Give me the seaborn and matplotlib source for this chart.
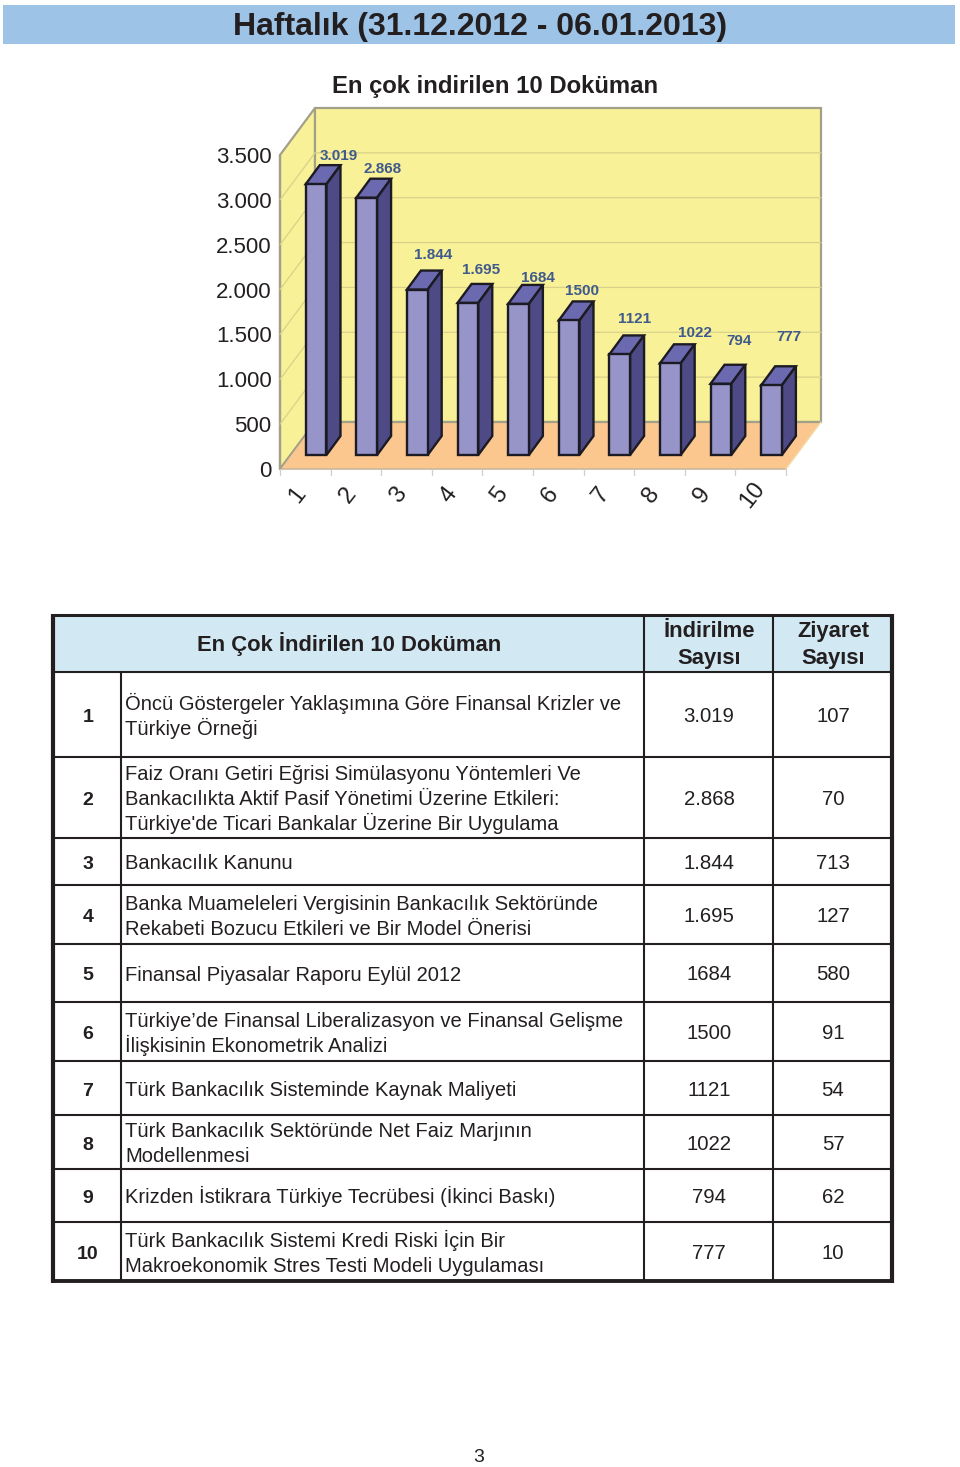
import matplotlib
matplotlib.use('Agg')
import matplotlib.pyplot as plt
from matplotlib.patches import Polygon, Rectangle
from matplotlib.transforms import Affine2D
import pandas as pd
import seaborn as sns

categories = ['1', '2', '3', '4', '5', '6', '7', '8', '9', '10']
downloads = [3019, 2868, 1844, 1695, 1684, 1500, 1121, 1022, 794, 777]
bar_labels = ['3.019', '2.868', '1.844', '1.695', '1684', '1500', '1121', '1022', '794', '777']
y_ticks = [0, 500, 1000, 1500, 2000, 2500, 3000, 3500]
y_tick_labels = ['0', '500', '1.000', '1.500', '2.000', '2.500', '3.000', '3.500']

docs = [
    "Öncü Göstergeler Yaklaşımına Göre Finansal Krizler ve\nTürkiye Örneği",
    "Faiz Oranı Getiri Eğrisi Simülasyonu Yöntemleri Ve\nBankacılıkta Aktif Pasif Yönetimi Üzerine Etkileri:\nTürkiye'de Ticari Bankalar Üzerine Bir Uygulama",
    "Bankacılık Kanunu",
    "Banka Muameleleri Vergisinin Bankacılık Sektöründe\nRekabeti Bozucu Etkileri ve Bir Model Önerisi",
    "Finansal Piyasalar Raporu Eylül 2012",
    "Türkiye’de Finansal Liberalizasyon ve Finansal Gelişme\nİlişkisinin Ekonometrik Analizi",
    "Türk Bankacılık Sisteminde Kaynak Maliyeti",
    "Türk Bankacılık Sektöründe Net Faiz Marjının\nModellenmesi",
    "Krizden İstikrara Türkiye Tecrübesi (İkinci Baskı)",
    "Türk Bankacılık Sistemi Kredi Riski İçin Bir\nMakroekonomik Stres Testi Modeli Uygulaması",
]
download_text = ['3.019', '2.868', '1.844', '1.695', '1684', '1500', '1121', '1022', '794', '777']
visits = ['107', '70', '713', '127', '580', '91', '54', '57', '62', '10']

# layout, in pixels of the 960x1467 page
W, H = 960, 1467
row_y = [615, 672, 757, 838, 885, 944, 1002, 1061, 1115, 1169, 1222, 1281]
col_x = [53, 121, 644, 773, 892]
X0, X1, Y0, Y1 = 280, 786, 469, 155   # front plane of the 3d box
BACK = (35, 47)
BAR = (10.8, 14)    # bars sit this far behind the front plane
DEPTH = (14, 19)
label_off = [(23, 28), (15.5, 29), (16, 34.6), (13.4, 33), (19, 26),
             (13.3, 29.5), (15, 35.5), (25, 30.3), (18.6, 42.8), (17, 48)]

sns.set_theme(style='white')
plt.rcParams['font.family'] = ['Liberation Sans', 'DejaVu Sans']
text_col = '#231f20'

fig = plt.figure(figsize=(W / 100, H / 100), dpi=100)
bg = fig.add_axes([0, 0, 1, 1])
bg.set_xlim(0, W)
bg.set_ylim(H, 0)
bg.axis('off')


def lines(x, mid, txt, step, off, **kw):
    # mpl changes line height with the glyphs (Ö, İ), so place each line itself
    parts = txt.split('\n')
    for k, part in enumerate(parts):
        bg.text(x, mid + (k - (len(parts) - 1) / 2) * step + off, part, va='baseline',
                color=text_col, **kw)


bg.add_patch(Rectangle((3, 5), 952, 39, fc='#9dc3e6', ec='none'))
bg.text(480, 35.5, 'Haftalık (31.12.2012 - 06.01.2013)', fontsize=23, weight='bold',
        ha='center', va='baseline', color=text_col)
bg.text(495, 87, 'En çok indirilen 10 Doküman', fontsize=17.2, weight='bold',
        ha='center', va='center', color=text_col)
bg.text(479, 1458, '3', fontsize=14, ha='center', va='center', color=text_col)

# walls and floor of the box
wall_col, floor_col, edge_col = '#f9f197', '#fcc78f', '#a3a08a'
bx, by = BACK
bg.add_patch(Polygon([(X0, Y0), (X0, Y1), (X0 + bx, Y1 - by), (X0 + bx, Y0 - by)],
                     fc=wall_col, ec=edge_col, lw=1.6))
bg.add_patch(Rectangle((X0 + bx, Y1 - by), X1 - X0, Y0 - Y1, fc=wall_col, ec=edge_col, lw=1.6))
bg.add_patch(Polygon([(X0, Y0), (X0 + bx, Y0 - by), (X1 + bx, Y0 - by), (X1, Y0)],
                     fc=floor_col, ec='none'))
bg.plot([X0 + bx, X1 + bx], [Y0 - by, Y0 - by], color=edge_col, lw=1.6)
bg.plot([X0, X1], [Y0, Y0], color='#c9b79c', lw=1.2)
bg.plot([X1, X1 + bx], [Y0, Y0 - by], color='#f3dca9', lw=1)
bg.plot([X0, X0 + bx], [Y0, Y0 - by], color=edge_col, lw=1.2)
bg.plot([X0, X0], [Y0, Y1], color=edge_col, lw=1.6)

# bars, on the value scale of the front plane
ax = fig.add_axes([X0 / W, 1 - Y0 / H, (X1 - X0) / W, (Y0 - Y1) / H])
df = pd.DataFrame({'doc': categories, 'downloads': downloads})
sns.barplot(data=df, x='doc', y='downloads', ax=ax, width=0.41, color='#9694c8',
            saturation=1, edgecolor='#1c1a22', linewidth=1.7, zorder=5)
ax.set_xlim(-0.5, 9.5)
ax.set_ylim(0, 3500)
ax.patch.set_alpha(0)
for s in ax.spines.values():
    s.set_visible(False)
ax.set_xlabel('')
ax.set_ylabel('')
ax.set_yticks(y_ticks)
ax.set_yticklabels(y_tick_labels, fontsize=16, color=text_col)
ax.set_xticks(range(10))
ax.set_xticklabels(categories, fontsize=17, rotation=52, ha='center', va='center', color=text_col)
ax.tick_params(axis='x', length=0, pad=19)
ax.tick_params(axis='y', length=0, pad=6)
for lab in ax.get_xticklabels():
    lab.set_transform(lab.get_transform() + Affine2D().translate(-8, 0))

# grid lines on the walls
for v in y_ticks[1:-1]:
    py = Y0 - (Y0 - Y1) * v / 3500
    bg.plot([X0, X0 + bx, X1 + bx], [py, py - by, py - by], color='#d8d18a', lw=0.9)
for i in range(11):
    px = X0 + (X1 - X0) * i / 10
    bg.plot([px, px], [Y0, Y0 + 6], color='#cfcfc8', lw=0.9)

shift = Affine2D().translate(*BAR)
for bar, txt, (lx, ly) in zip(ax.patches, bar_labels, label_off):
    bar.set_transform(ax.transData + shift)
    bar.set_clip_on(False)
    p0 = ax.transData.transform((bar.get_x(), bar.get_height()))
    p1 = ax.transData.transform((bar.get_x() + bar.get_width(), 0))
    x0, ytop = p0[0] + BAR[0], p0[1] + BAR[1]
    x1, ybot = p1[0] + BAR[0], p1[1] + BAR[1]
    dx, dy = DEPTH
    top = Polygon([(x0, ytop), (x1, ytop), (x1 + dx, ytop + dy), (x0 + dx, ytop + dy)],
                  transform=None, fc='#6b69b0', ec='#1c1a22', lw=1.7, zorder=4, clip_on=False)
    side = Polygon([(x1, ytop), (x1 + dx, ytop + dy), (x1 + dx, ybot + dy), (x1, ybot)],
                   transform=None, fc='#4d4a86', ec='#1c1a22', lw=1.7, zorder=4, clip_on=False)
    ax.add_artist(top)
    ax.add_artist(side)
    ax.annotate(txt, xy=((x0 + x1) / 2 + lx, ytop + ly), xycoords='figure pixels',
                fontsize=11, weight='bold', color='#3f5a8c', ha='center', va='center')

# table
bg.add_patch(Rectangle((col_x[0], row_y[0]), col_x[-1] - col_x[0], row_y[1] - row_y[0],
                       fc='#d2e9f3', ec='none'))
line_col = '#231f20'
for y in row_y[1:-1]:
    bg.plot([col_x[0], col_x[-1]], [y, y], color=line_col, lw=1.5)
for x in col_x[1:-1]:
    y_from = row_y[1] if x == col_x[1] else row_y[0]
    bg.plot([x, x], [y_from, row_y[-1]], color=line_col, lw=1.5)
bg.plot([col_x[0], col_x[-1]], [row_y[0], row_y[0]], color=line_col, lw=2.2, zorder=6)
bg.plot([col_x[0], col_x[-1]], [row_y[-1], row_y[-1]], color=line_col, lw=2.8, zorder=6)
for x in (col_x[0], col_x[-1]):
    bg.plot([x, x], [row_y[0] - 1.5, row_y[-1] + 2], color=line_col, lw=3, zorder=6,
            solid_capstyle='butt')

head_mid = (row_y[0] + row_y[1]) / 2
head_kw = dict(fontsize=15.8, weight='bold', ha='center')
lines(349, head_mid, 'En Çok İndirilen 10 Doküman', 27, 7, **head_kw)
lines(709, head_mid, 'İndirilme\nSayısı', 27, 7, **head_kw)
lines(833, head_mid, 'Ziyaret\nSayısı', 27, 7, **head_kw)

for i in range(10):
    mid = (row_y[i + 1] + row_y[i + 2]) / 2
    lines(88, mid, categories[i], 25, 7.5, fontsize=14, weight='bold', ha='center')
    lines(125, mid, docs[i], 25, 7.7, fontsize=14.5, ha='left')
    lines(709, mid, download_text[i], 25, 7.5, fontsize=14.7, ha='center')
    lines(833, mid, visits[i], 25, 7.5, fontsize=14.7, ha='center')

fig.savefig('out.png', dpi=100)
